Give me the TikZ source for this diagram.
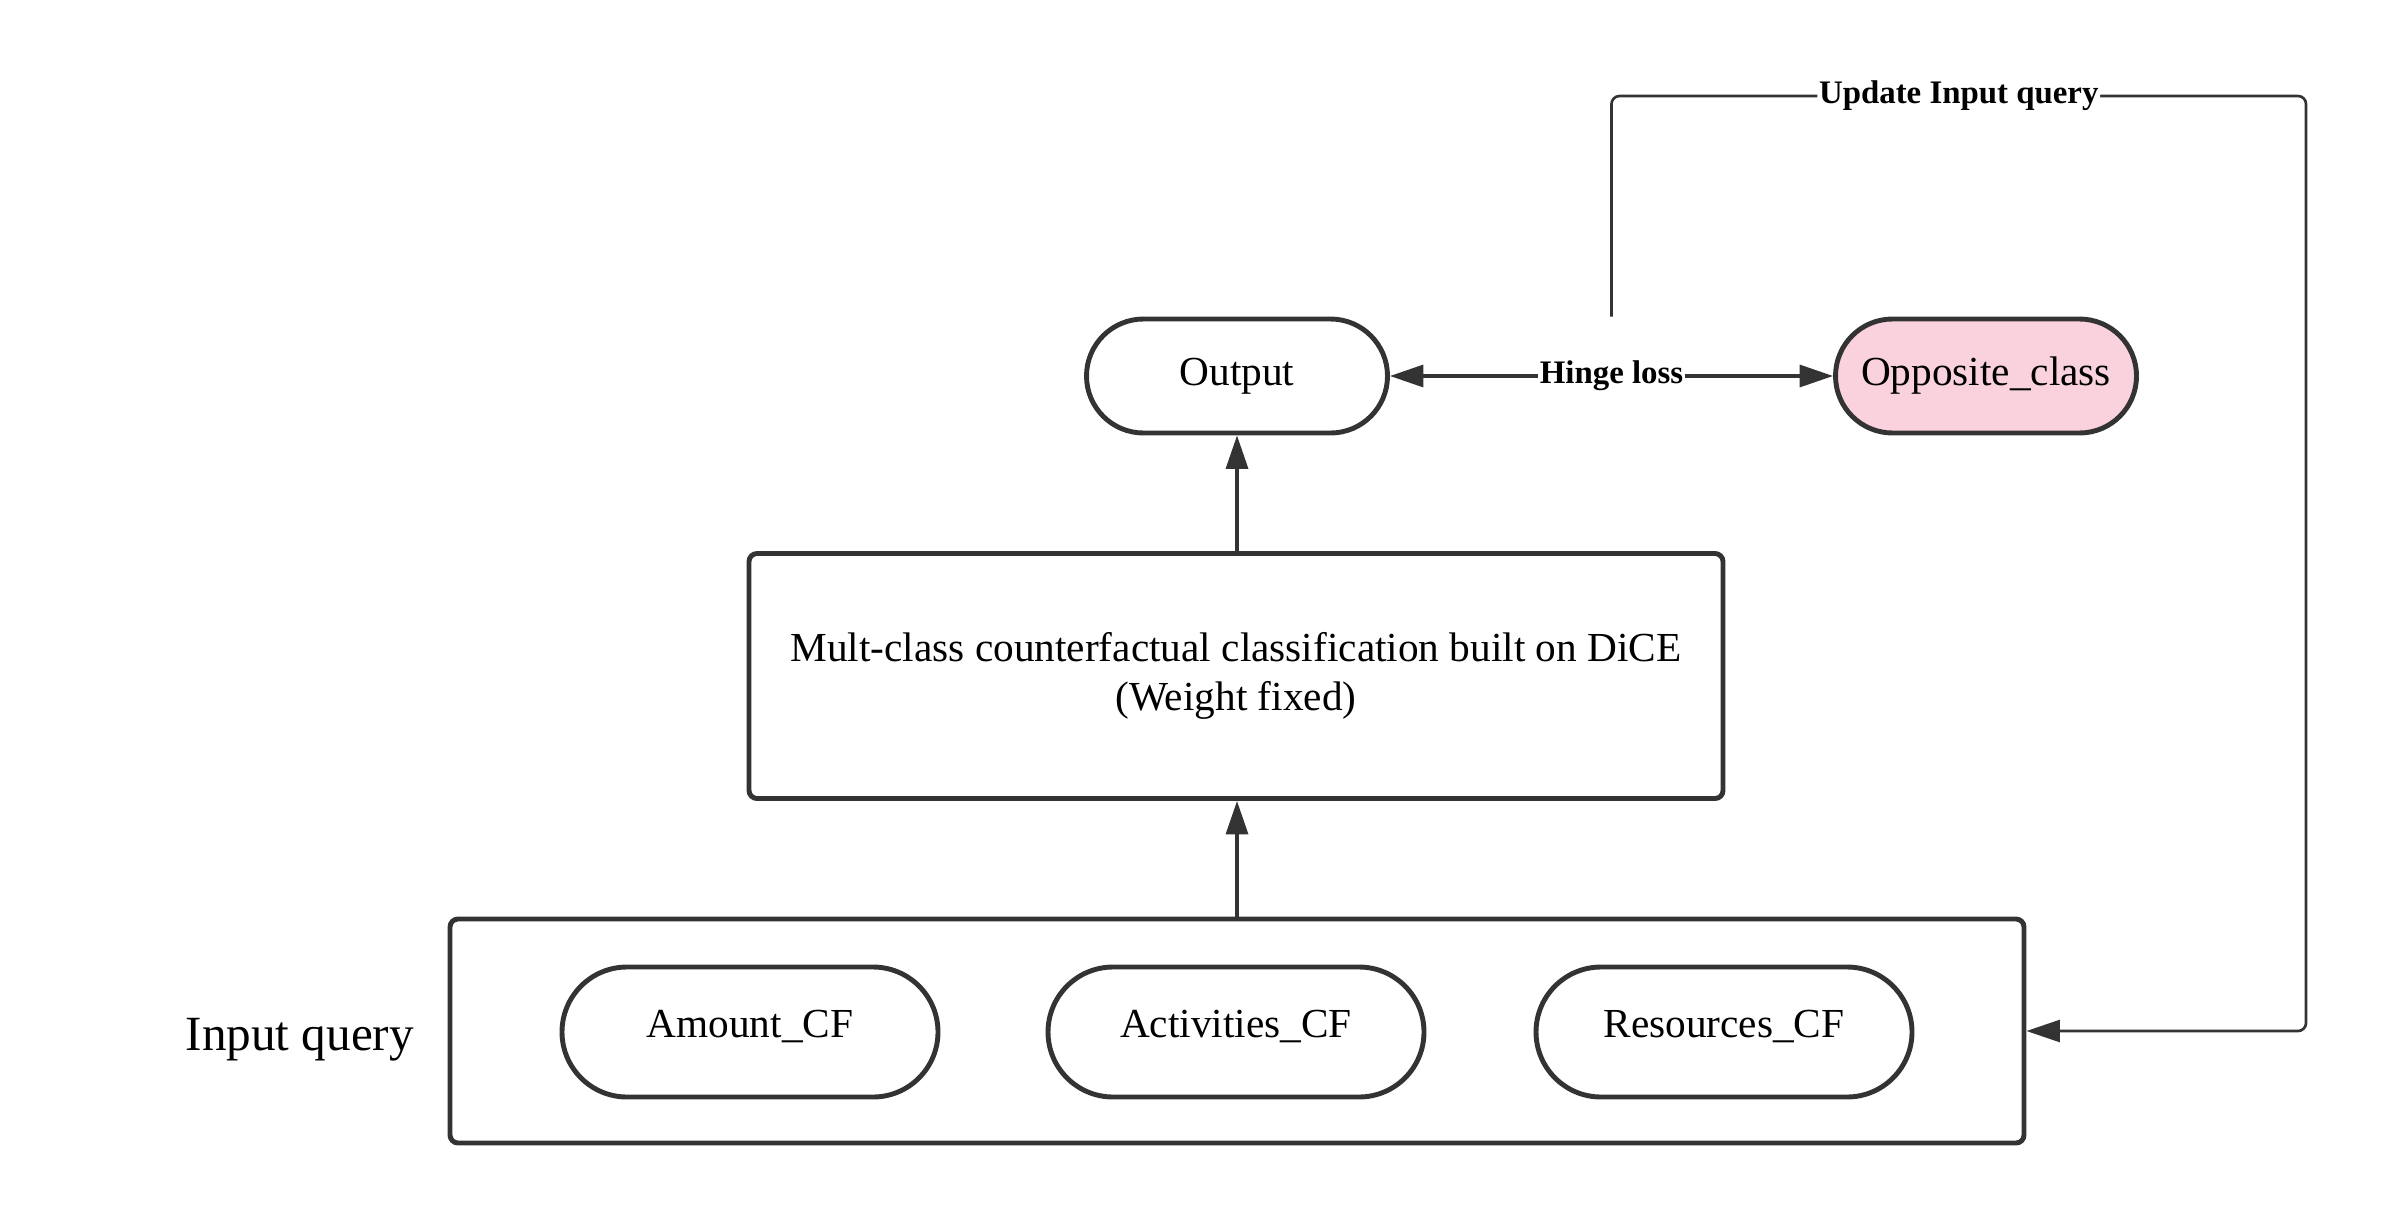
\documentclass[tikz,border=0pt]{standalone}
\usepackage{fontspec}
\setmainfont{Liberation Serif}
\definecolor{mygray}{HTML}{333333}
\definecolor{mypink}{HTML}{F9D2DE}
\usetikzlibrary{positioning, shapes.misc, arrows.meta}
\tikzset{
	pillnode/.style={
			rounded rectangle,
			draw=mygray,
			line width=2.8pt,
			fill=white,
			minimum width=6.02cm,
			minimum height=2.28cm,
			inner sep=0pt,
			font=\fontsize{23.5}{28}\selectfont
		},
	pinknode/.style={
			pillnode,
			fill=mypink
		},
	cfnode/.style={
			pillnode,
			minimum width=7.52cm,
			minimum height=2.6cm,
			text height=0.55cm,
			text depth=0.34cm
		},
	boxnode/.style={
			rectangle,
			rounded corners=0.16cm,
			draw=mygray,
			line width=2.8pt,
			fill=white,
			align=center,
			inner sep=0pt,
			font=\fontsize{23.5}{28}\selectfont
		},
	edgelabel/.style={
			fill=white,
			inner sep=1pt,
			font=\bfseries\fontsize{18.7}{22}\selectfont
		},
	conn/.style={
			draw=mygray,
			line width=1.9pt,
			-{Triangle[length=19pt, width=12.5pt]}
		}
}

\begin{document}
\begin{tikzpicture}
\useasboundingbox (0,0) rectangle (47.66,-24.42);

% frame with the three inputs
\node[boxnode, minimum width=31.48cm, minimum height=4.48cm] (inp) at (24.74,-20.62) {};
\node[cfnode] (amount) at (15.0,-20.64) {Amount\_CF};
\node[cfnode] (activ) at (24.72,-20.64) {Activities\_CF};
\node[cfnode] (res) at (34.48,-20.64) {Resources\_CF};
\node[font=\fontsize{28}{32}\selectfont, left=0.55cm of inp, yshift=-0.18cm] (inplabel) {Input query};

% classifier and outputs
\node[boxnode, minimum width=19.48cm, minimum height=4.9cm] (model) at (24.72,-13.52)
  {Mult-class counterfactual classification built on DiCE\\(Weight fixed)};
\node[pillnode] (out) at (24.74,-7.52) {Output};
\node[pinknode] (opp) at (39.72,-7.52) {Opposite\_class};

\draw[conn] (inp.north) -- (inp.north |- model.south);
\draw[conn] (model.north -| out.south) -- (out.south);

\draw[conn, {Triangle[length=19pt, width=12.5pt]}-{Triangle[length=19pt, width=12.5pt]}]
  (out.east) -- node[edgelabel] (hinge) {Hinge loss} (opp.west);

% update loop
\coordinate (loopstart) at (hinge |- out.north);
\coordinate (topright) at (46.12,-1.92);
\draw[conn, line width=1.5pt, rounded corners=0.16cm]
  (loopstart) -- (loopstart |- topright)
  -- node[edgelabel] {Update Input query} (topright)
  -- (topright |- inp.east) -- (inp.east);
\end{tikzpicture}
\end{document}
